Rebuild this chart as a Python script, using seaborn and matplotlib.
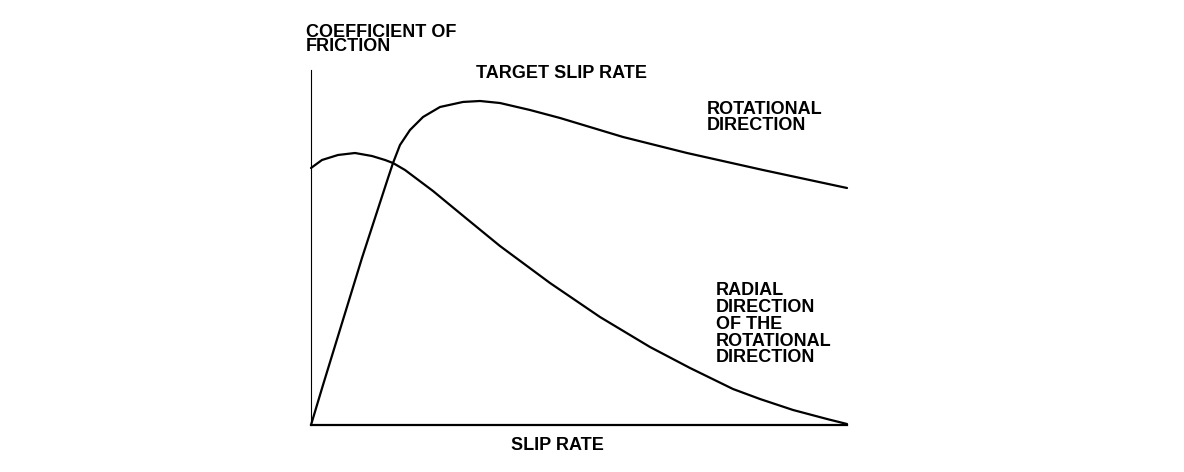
import numpy as np
import pandas as pd
import seaborn as sns
import matplotlib
matplotlib.use("Agg")
import matplotlib.pyplot as plt

# values (slip rate 0-100, friction 0-100)
rot_slip = [0, 2.24, 9.51, 14.37, 15.30, 16.60, 18.47, 20.90, 24.07, 28.36,
            31.53, 35.26, 40.86, 46.46, 58.21, 70.15, 84.33, 100]
rot_mu = [0, 11.27, 47.04, 69.58, 73.80, 78.87, 83.10, 86.76, 89.58, 91.00,
          91.27, 90.70, 88.73, 86.48, 81.13, 76.62, 71.83, 66.76]

rad_slip = [0, 2.05, 5.04, 8.21, 11.38, 13.81, 15.30, 17.54, 22.76, 25.93,
            29.10, 35.26, 44.59, 53.92, 63.25, 70.71, 78.73, 83.77, 89.93,
            96.27, 100]
rad_mu = [72.39, 74.65, 76.06, 76.62, 75.77, 74.65, 73.80, 71.83, 65.92, 61.97,
          58.03, 50.42, 40.00, 30.42, 21.97, 16.06, 10.14, 7.32, 4.23,
          1.69, 0.28]

rot = pd.DataFrame({"slip": rot_slip, "mu": rot_mu})
rad = pd.DataFrame({"slip": rad_slip, "mu": rad_mu})

sns.set_style("white")
plt.rcParams['font.family'] = ['Liberation Sans', 'DejaVu Sans']
plt.rcParams['lines.solid_joinstyle'] = 'round'

W, H = 1184, 472
fig = plt.figure(figsize=(W / 100, H / 100), dpi=100)
ax = fig.add_axes([311 / W, 1 - 425 / H, (847 - 311) / W, (425 - 70) / H])

sns.lineplot(data=rot, x="slip", y="mu", sort=False, estimator=None,
             color="black", linewidth=1.6, ax=ax, clip_on=False)
sns.lineplot(data=rad, x="slip", y="mu", sort=False, estimator=None,
             color="black", linewidth=1.6, ax=ax, clip_on=False)

ax.set_xlim(0, 100)
ax.set_ylim(0, 100)
ax.set_xticks([])
ax.set_yticks([])
ax.set_xlabel("")
ax.set_ylabel("")
for s in ["top", "right"]:
    ax.spines[s].set_visible(False)
ax.spines["left"].set_linewidth(0.8)
ax.spines["bottom"].set_linewidth(1.6)
ax.spines["left"].set_color("black")
ax.spines["bottom"].set_color("black")

kw = dict(fontsize=13, fontweight="bold", color="black")

def px(x, y):
    return x / W, 1 - y / H

fig.text(*px(306, 24), "COEFFICIENT OF\nFRICTION", ha="left", va="top",
         linespacing=0.8, **kw)
fig.text(*px(562, 73), "TARGET SLIP RATE", ha="center", va="center", **kw)
fig.text(*px(707, 101), "ROTATIONAL\nDIRECTION", ha="left", va="top",
         linespacing=0.93, **kw)
fig.text(*px(716, 282), "RADIAL\nDIRECTION\nOF THE\nROTATIONAL\nDIRECTION",
         ha="left", va="top", linespacing=0.99, **kw)
fig.text(*px(557, 446), "SLIP RATE", ha="center", va="center", **kw)

fig.savefig("out.png", dpi=100, facecolor="white")
